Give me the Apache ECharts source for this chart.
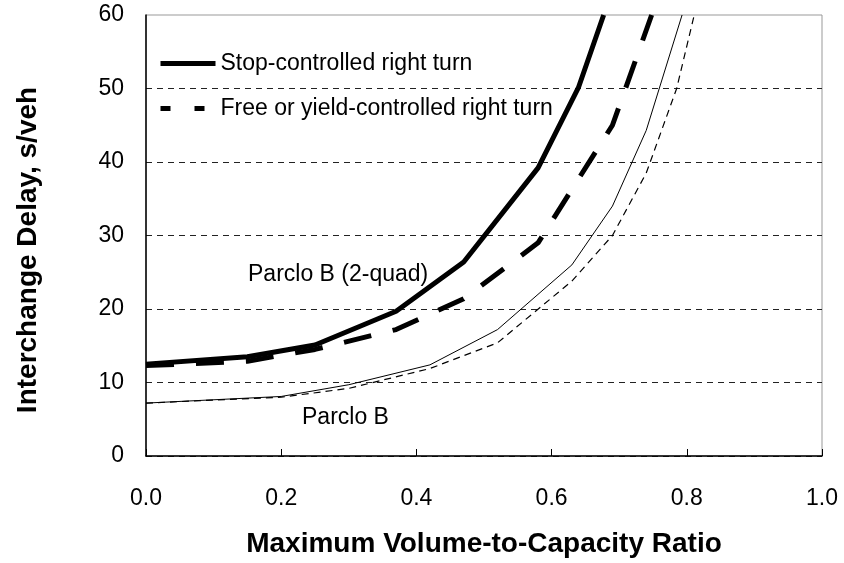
<!DOCTYPE html>
<html>
<head>
<meta charset="utf-8">
<script src="https://cdn.jsdelivr.net/npm/echarts@6/dist/echarts.min.js"></script>
<style>
  html, body { margin: 0; padding: 0; background: #fff; }
  #chart { width: 844px; height: 563px; }
</style>
</head>
<body>
<div id="chart"></div>
<script>
// v/c ratio vs delay
const stopQuad = [[0, 12.5], [0.15, 13.5], [0.25, 15.1], [0.37, 19.7], [0.47, 26.4], [0.58, 39.2], [0.64, 50.2], [0.677, 60]]
const freeQuad = [[0, 12.3], [0.15, 12.9], [0.25, 14.5], [0.37, 17.2], [0.47, 21.4], [0.58, 29], [0.69, 45], [0.748, 60]]
const stopB = [[0, 7.2], [0.2, 8.1], [0.3, 9.7], [0.42, 12.4], [0.52, 17.2], [0.63, 26], [0.69, 34], [0.74, 44.3], [0.793, 60]]
const freeB = [[0, 7.2], [0.2, 8], [0.3, 9.2], [0.42, 11.9], [0.52, 15.4], [0.63, 23.8], [0.69, 30], [0.74, 38.5], [0.785, 50], [0.811, 60]]

const xTicks = [0, 0.2, 0.4, 0.6, 0.8, 1.0]
const yTicks = [0, 10, 20, 30, 40, 50, 60]

const legendNames = ['Stop-controlled right turn', 'Free or yield-controlled right turn']

const FONT = '"Liberation Sans", Arial, sans-serif'

const chart = echarts.init(document.getElementById('chart'))

chart.setOption({
  animation: false,
  backgroundColor: '#fff',
  color: ['#000'],
  grid: {
    left: 146,
    right: 22,
    top: 15,
    bottom: 107,
    show: true,
    borderColor: '#999',
    borderWidth: 1
  },
  legend: {
    data: [
      { name: legendNames[0], lineStyle: { width: 5, type: 'solid', color: '#000' } },
      { name: legendNames[1], lineStyle: { width: 5, type: [10, 24], color: '#000' } }
    ],
    orient: 'vertical',
    left: 153,
    top: 47,
    itemWidth: 55,
    itemHeight: 14,
    itemGap: 22,
    itemStyle: { opacity: 0 },
    textStyle: { fontFamily: FONT, fontSize: 23, color: '#000' }
  },
  xAxis: {
    type: 'value',
    min: xTicks[0],
    max: xTicks[xTicks.length - 1],
    interval: 0.2,
    axisLine: { lineStyle: { color: '#000', width: 1.5 } },
    axisTick: { inside: true, length: 7, lineStyle: { color: '#000' } },
    splitLine: { show: false },
    axisLabel: {
      fontFamily: FONT, fontSize: 23, color: '#000', margin: 31,
      formatter: v => v.toFixed(1)
    },
    name: 'Maximum Volume-to-Capacity Ratio',
    nameLocation: 'middle',
    nameGap: 74,
    nameTextStyle: { fontFamily: FONT, fontSize: 28, fontWeight: 'bold', color: '#000' }
  },
  yAxis: {
    type: 'value',
    min: yTicks[0],
    max: yTicks[yTicks.length - 1],
    interval: 10,
    axisLine: { show: true, lineStyle: { color: '#000', width: 1.5 } },
    axisTick: { show: false },
    splitLine: {
      show: true,
      showMaxLine: false,
      lineStyle: { color: '#222', width: 1, type: [6, 5] }
    },
    axisLabel: { fontFamily: FONT, fontSize: 23, color: '#000', margin: 22 }
  },
  series: [
    {
      name: 'Parclo B, free',
      type: 'line',
      data: freeB,
      showSymbol: false,
      symbol: 'none',
      itemStyle: { color: '#000' },
      lineStyle: { color: '#000', width: 1.2, type: [7, 5] }
    },
    {
      name: 'Parclo B, stop',
      type: 'line',
      data: stopB,
      showSymbol: false,
      symbol: 'none',
      itemStyle: { color: '#000' },
      lineStyle: { color: '#000', width: 1 }
    },
    {
      name: legendNames[1],
      type: 'line',
      data: freeQuad,
      showSymbol: false,
      symbol: 'none',
      itemStyle: { color: '#000' },
      lineStyle: { color: '#000', width: 5, type: [28, 22] }
    },
    {
      name: legendNames[0],
      type: 'line',
      data: stopQuad,
      showSymbol: false,
      symbol: 'none',
      itemStyle: { color: '#000' },
      lineStyle: { color: '#000', width: 5 }
    }
  ],
  graphic: [
    {
      // y-axis title
      type: 'text', x: 28, y: 250, rotation: Math.PI / 2,
      style: {
        text: 'Interchange Delay, s/veh', fontFamily: FONT, fontSize: 28, fontWeight: 'bold',
        fill: '#000', align: 'center', verticalAlign: 'middle'
      }
    },
    {
      type: 'text', left: 248, top: 263,
      style: { text: 'Parclo B (2-quad)', fontFamily: FONT, fontSize: 23, fill: '#000' }
    },
    {
      type: 'text', left: 302, top: 406,
      style: { text: 'Parclo B', fontFamily: FONT, fontSize: 23, fill: '#000' }
    }
  ]
})
</script>
</body>
</html>
